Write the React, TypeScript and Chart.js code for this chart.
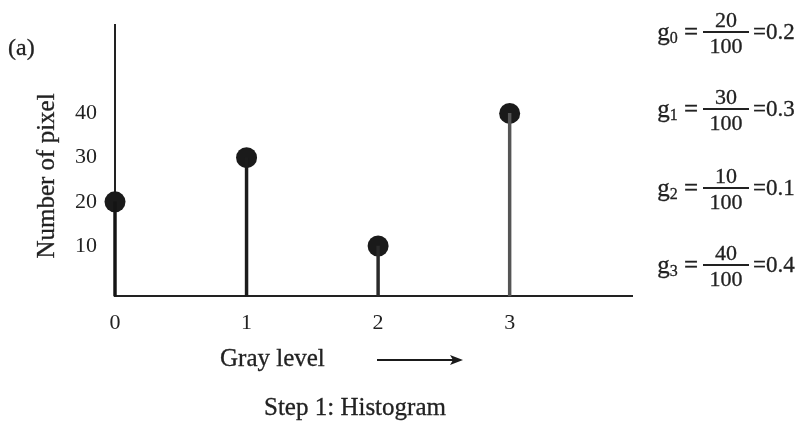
import React, { useEffect, useRef } from "react";
import { Chart, registerables } from "chart.js";

Chart.register(...registerables);

const grayLevels = [0, 1, 2, 3];
const pixelCounts = [20, 30, 10, 40];
const xTickValues = [0, 1, 2, 3];
const yTickValues = [10, 20, 30, 40];
const totalPixels = 100;
const probabilityLabels = ["0.2", "0.3", "0.1", "0.4"];
const stemColors = ["#141414", "#1c1c1c", "#2a2a2a", "#555555"];

const Y_MIN = -1.3;
const Y_MAX = 60;
const X_MIN = 0;
const X_MAX = 3.93;

const SERIF = "'Liberation Serif', 'Times New Roman', serif";
const TEXT = "#222222";

const eqRowsY = [32, 109, 188, 265];

export default function App() {
  const canvasRef = useRef<HTMLCanvasElement | null>(null);

  useEffect(() => {
    if (!canvasRef.current) return;
    const chart = new Chart(canvasRef.current, {
      type: "bar",
      data: {
        datasets: [
          {
            type: "bar",
            data: grayLevels.map((g, i) => ({ x: g, y: pixelCounts[i] })),
            base: Y_MIN,
            barThickness: 2.8,
            backgroundColor: stemColors,
            borderWidth: 0,
            clip: false,
          } as any,
          {
            type: "scatter",
            data: grayLevels.map((g, i) => ({ x: g, y: pixelCounts[i] })),
            pointRadius: 10.5,
            pointBackgroundColor: "#1a1a1a",
            pointBorderWidth: 0,
            clip: false,
          } as any,
        ],
      },
      options: {
        animation: false,
        responsive: true,
        maintainAspectRatio: false,
        layout: { padding: { top: 25, right: 172, left: 0, bottom: 0 } },
        plugins: {
          legend: { display: false },
          tooltip: { enabled: false },
          title: { display: false },
        },
        scales: {
          x: {
            type: "linear",
            min: X_MIN,
            max: X_MAX,
            offset: false,
            grid: { display: false, drawTicks: false, offset: false },
            border: { display: true, color: "#222", width: 2 },
            ticks: {
              font: { family: SERIF, size: 22 },
              color: TEXT,
              padding: 14,
              maxRotation: 0,
              autoSkip: false,
            },
            afterBuildTicks: (s: any) => {
              s.ticks = xTickValues.map((v) => ({ value: v }));
            },
            afterFit: (s: any) => {
              s.height = 131;
              s.paddingLeft = 0;
              s.paddingRight = 0;
            },
          },
          y: {
            type: "linear",
            min: Y_MIN,
            max: Y_MAX,
            grid: { display: false, drawTicks: false },
            border: { display: true, color: "#222", width: 2 },
            ticks: {
              font: { family: SERIF, size: 22 },
              color: TEXT,
              padding: 18,
              autoSkip: false,
            },
            afterBuildTicks: (s: any) => {
              s.ticks = yTickValues.map((v) => ({ value: v }));
            },
            afterFit: (s: any) => {
              s.width = 115;
              s.paddingTop = 0;
              s.paddingBottom = 0;
            },
          },
        },
      } as any,
    });
    return () => chart.destroy();
  }, []);

  const textBase: React.CSSProperties = {
    position: "absolute",
    fontFamily: SERIF,
    color: TEXT,
    whiteSpace: "nowrap",
    WebkitTextStroke: "0.3px #222",
  };

  return (
    <div style={{ position: "absolute", left: 0, top: 0, width: 804, height: 427, background: "#fff", overflow: "hidden" }}>
      <canvas ref={canvasRef} style={{ position: "absolute", left: 0, top: 0 }} />
      <div style={{ ...textBase, left: 8, top: 35, fontSize: 24, lineHeight: "24px" }}>(a)</div>
      <div
        style={{
          ...textBase,
          left: 45,
          top: 176,
          fontSize: 25,
          lineHeight: "25px",
          transform: "translate(-50%, -50%) rotate(-90deg)",
          transformOrigin: "center",
        }}
      >
        Number of pixel
      </div>
      <div style={{ ...textBase, left: 220, top: 345, fontSize: 25, lineHeight: "25px" }}>Gray level</div>
      <svg style={{ position: "absolute", left: 370, top: 348 }} width={100} height={24}>
        <line x1={7} y1={12} x2={86} y2={12} stroke="#1a1a1a" strokeWidth={2} />
        <polygon points="80,7 93,12 80,17 83,12" fill="#1a1a1a" />
      </svg>
      <div style={{ ...textBase, left: 264, top: 394, fontSize: 25, lineHeight: "25px" }}>Step 1: Histogram</div>
      {grayLevels.map((g, i) => {
        const yb = eqRowsY[i];
        return (
          <React.Fragment key={g}>
            <div style={{ ...textBase, right: 804 - 698, top: yb - 13.5, fontSize: 25, lineHeight: "25px", textAlign: "right" }}>
              g<span style={{ fontSize: 16, position: "relative", top: 3 }}>{g}</span> =
            </div>
            <div style={{ ...textBase, left: 703, width: 46, top: yb - 23, fontSize: 22, lineHeight: "22px", textAlign: "center" }}>
              {pixelCounts[i]}
            </div>
            <div style={{ position: "absolute", left: 703, width: 46, top: yb - 0.8, height: 1.6, background: "#222" }} />
            <div style={{ ...textBase, left: 703, width: 46, top: yb + 3, fontSize: 22, lineHeight: "22px", textAlign: "center" }}>
              {totalPixels}
            </div>
            <div style={{ ...textBase, left: 753, top: yb - 12.5, fontSize: 23, lineHeight: "23px" }}>={probabilityLabels[i]}</div>
          </React.Fragment>
        );
      })}
    </div>
  );
}
